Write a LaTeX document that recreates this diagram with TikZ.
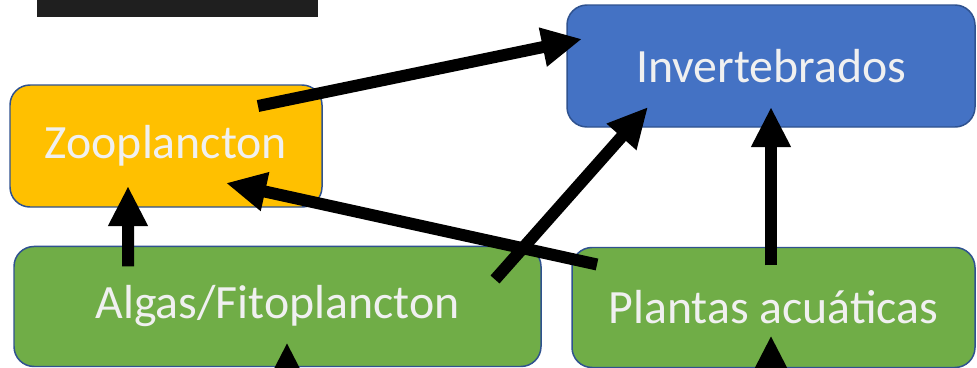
\documentclass[tikz,border=0pt]{standalone}
\usepackage{fontspec}
\setmainfont{Carlito}
\usepackage{tikz}
\usetikzlibrary{positioning, arrows.meta}
\definecolor{invblue}{HTML}{4472C4}
\definecolor{zooyellow}{HTML}{FFC000}
\definecolor{plantgreen}{HTML}{70AD47}
\definecolor{boxline}{HTML}{2F528F}
\definecolor{boxtext}{HTML}{F0F0F0}
\tikzstyle{invert} = [
    rectangle,
    draw = boxline,
    line width = 0.85pt,
    fill = invblue,
    text = boxtext,
    font = \fontsize{27.2}{32}\selectfont,
    text centered,
    rounded corners = 0.4cm,
    minimum width = 8.16cm,
    minimum height = 2.44cm
]
\tikzstyle{zoo} = [
    rectangle,
    draw = boxline,
    line width = 0.85pt,
    fill = zooyellow,
    text = boxtext,
    font = \fontsize{27.2}{32}\selectfont,
    text centered,
    rounded corners = 0.4cm,
    minimum width = 6.24cm,
    minimum height = 2.44cm
]
\tikzstyle{producer} = [
    rectangle,
    draw = boxline,
    line width = 0.85pt,
    fill = plantgreen,
    text = boxtext,
    font = \fontsize{27.2}{32}\selectfont,
    text centered,
    rounded corners = 0.4cm,
    minimum height = 2.4cm
]
\tikzstyle{feeds} = [
    line width = 0.24cm,
    -{Triangle[length = 0.8cm, width = 0.74cm]}
]
\begin{document}
\begin{tikzpicture}

                \clip (0,0) rectangle (19.54,-7.36);

                % photo strip
                \fill [black!88] (0.74,0.1) rectangle (6.36,-0.34);

                % consumers
                \node [invert] (invertebrados) at (15.42,-1.32) {Invertebrados};
                \node [zoo] (zooplancton) at (3.32,-2.92) {Zooplancton};

                % producers
                \node [producer, minimum width = 10.54cm, below right = 0.76cm and 0.08cm of zooplancton.south west] (algas) {Algas/Fitoplancton};
                \node [producer, minimum width = 8.06cm, below = 2.38cm of invertebrados, xshift = 0.05cm] (plantas) {Plantas acuáticas};

                % who eats whom
                \draw [feeds] ([shift = {(1.84,0.80)}]zooplancton.center) -- ([shift = {(-3.78,0.54)}]invertebrados.center);
                \draw [feeds] ([shift = {(-2.99,0.80)}]algas.center) -- ([shift = {(-0.76,-0.80)}]zooplancton.center);
                \draw [feeds] ([shift = {(4.35,0.54)}]algas.center) -- ([shift = {(-2.46,-0.82)}]invertebrados.center);
                \draw [feeds] ([shift = {(-3.53,0.86)}]plantas.center) -- ([shift = {(1.20,-0.74)}]zooplancton.center);
                \draw [feeds] ([shift = {(-0.05,0.84)}]plantas.center) -- ([shift = {(0,-0.82)}]invertebrados.center);

                % inputs from below
                \coordinate [below = 1.9cm of algas.center, xshift = 0.19cm] (algasIn);
                \coordinate [below = 1.9cm of plantas.center, xshift = -0.05cm] (plantasIn);
                \draw [feeds] (algasIn) -- ([shift = {(0.19,-0.72)}]algas.center);
                \draw [feeds] (plantasIn) -- ([shift = {(-0.05,-0.56)}]plantas.center);

            \end{tikzpicture}
\end{document}
